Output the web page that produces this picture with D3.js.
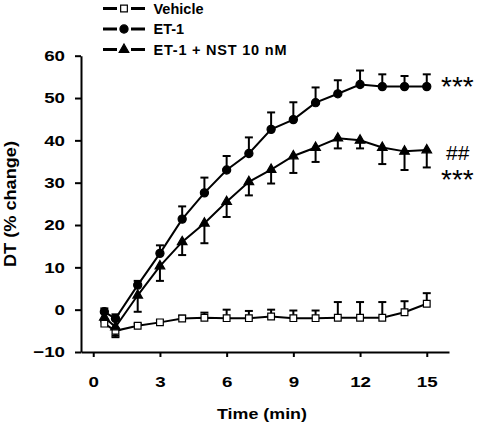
<!DOCTYPE html>
<html><head><meta charset="utf-8">
<script src="https://cdn.jsdelivr.net/npm/d3@7"></script>
<style>body{margin:0;background:#fff}svg{display:block}text{font-family:"Liberation Sans",Arial,sans-serif}</style>
</head><body>
<svg id="c" width="480" height="425"></svg>
<script>
const times = [0.5,1,2,3,4,5,6,7,8,9,10,11,12,13,14,15];
const vehicle = [-3.3,-5.0,-3.8,-3.0,-2.1,-1.9,-2.0,-2.0,-1.6,-2.0,-2.0,-1.9,-1.9,-1.9,-0.6,1.4];
// signed SEM: positive drawn upward, negative drawn downward
const vehicleSEM = [0.8,-1.5,0.5,0.5,0.7,1.2,2.0,1.7,1.6,1.8,1.8,3.7,3.7,3.7,2.6,2.5];
const et1 = [-0.5,-2.1,5.8,13.3,21.4,27.6,33.0,36.9,42.6,44.9,48.9,51.0,53.2,52.7,52.7,52.7];
const et1SEM = [0.8,1.0,1.0,1.9,3.0,3.6,3.3,3.8,4.0,4.1,3.6,3.2,3.3,2.9,2.5,2.9];
const nst = [-1.8,-4.1,3.4,10.3,16.0,20.4,25.5,30.2,33.1,36.3,38.3,40.5,40.0,38.3,37.4,37.7];
const nstSEM = [-1.0,-2.0,-3.9,-3.5,-3.1,-4.7,-3.6,-3.2,-3.3,-4.0,-3.4,-2.4,-1.9,-3.9,-4.4,-4.1];
const seriesNames = ["Vehicle","ET-1","ET-1 + NST 10 nM"];
const xTicks = [0,3,6,9,12,15];
const yTicks = [-10,0,10,20,30,40,50,60];

const svg = d3.select("#c");
const x = d3.scaleLinear().domain([-0.55,16]).range([81,449]);
const y = d3.scaleLinear().domain([-10,60]).range([352,55.7]);
const SX = 1.25; // horizontal stretch of tick label glyphs

// axes
const xAxis = svg.append("g").attr("transform","translate(0,352)")
  .call(d3.axisBottom(x).tickValues(xTicks).tickSize(5).tickSizeOuter(0).tickPadding(19));
const yAxis = svg.append("g").attr("transform","translate(81,0)")
  .call(d3.axisLeft(y).tickValues(yTicks).tickSize(6).tickSizeOuter(0).tickPadding(10));
[xAxis,yAxis].forEach(a=>{
  a.select(".domain").attr("stroke","#000").attr("stroke-width",2);
  a.selectAll(".tick line").attr("stroke","#000").attr("stroke-width",2);
  a.selectAll("text").attr("font-size",15).attr("font-weight","bold").attr("fill","#000")
   .style("font-family",'"Liberation Sans",Arial,sans-serif')
   .each(function(){
     const t = d3.select(this);
     const xv = +t.attr("x") || 0;
     t.attr("x", xv/SX).attr("transform",`scale(${SX},1)`);
   });
});
svg.append("text").attr("x",262).attr("y",419).attr("text-anchor","middle")
  .attr("font-size",15).attr("font-weight","bold")
  .attr("textLength",90).attr("lengthAdjust","spacingAndGlyphs").text("Time (min)");
svg.append("text").attr("transform","translate(16,204) rotate(-90)").attr("text-anchor","middle")
  .attr("font-size",16.5).attr("font-weight","bold")
  .attr("textLength",126).attr("lengthAdjust","spacingAndGlyphs").text("DT (% change)");

const series = [
  {vals:vehicle, sem:vehicleSEM, sym:d3.symbolSquare, size:45, fill:"#fff"},
  {vals:et1, sem:et1SEM, sym:d3.symbolCircle, size:52, fill:"#000"},
  {vals:nst, sem:nstSEM, sym:d3.symbolTriangle, size:40, fill:"#000"}
];
const line = d3.line().x((d,i)=>x(times[i])).y(d=>y(d));
series.forEach(s=>{
  const g = svg.append("g");
  s.vals.forEach((v,i)=>{
    const e = v + s.sem[i];
    g.append("line").attr("x1",x(times[i])).attr("x2",x(times[i])).attr("y1",y(v)).attr("y2",y(e))
      .attr("stroke","#000").attr("stroke-width",2);
    g.append("line").attr("x1",x(times[i])-4).attr("x2",x(times[i])+4).attr("y1",y(e)).attr("y2",y(e))
      .attr("stroke","#000").attr("stroke-width",2);
  });
});
series.forEach(s=>{
  svg.append("path").datum(s.vals).attr("d",line).attr("fill","none").attr("stroke","#000").attr("stroke-width",2);
});
series.forEach(s=>{
  svg.append("g").selectAll("path").data(s.vals).join("path")
    .attr("transform",(d,i)=>`translate(${x(times[i])},${y(d)})`)
    .attr("d",d3.symbol(s.sym,s.size)).attr("fill",s.fill).attr("stroke","#000").attr("stroke-width",1.2);
});

// legend
const legY = [8.5,29,49.5];
seriesNames.forEach((n,i)=>{
  const g = svg.append("g").attr("transform",`translate(0,${legY[i]})`);
  g.append("line").attr("x1",103).attr("x2",117).attr("stroke","#000").attr("stroke-width",3);
  g.append("line").attr("x1",131).attr("x2",145).attr("stroke","#000").attr("stroke-width",3);
  g.append("path").attr("transform","translate(124,0)").attr("d",d3.symbol(series[i].sym,series[i].size))
    .attr("fill",series[i].fill).attr("stroke","#000").attr("stroke-width",1.2);
  const t = g.append("text").attr("x",153.5).attr("y",5).attr("font-size",14.5).attr("font-weight","bold").text(n);
  if (i===2) t.attr("textLength",133).attr("lengthAdjust","spacing");
});

// significance marks
svg.append("text").attr("x",441).attr("y",96).attr("font-size",28).text("***");
svg.append("text").attr("x",446).attr("y",160).attr("font-size",21).text("##");
svg.append("text").attr("x",441).attr("y",189).attr("font-size",28).text("***");
</script>
</body></html>
